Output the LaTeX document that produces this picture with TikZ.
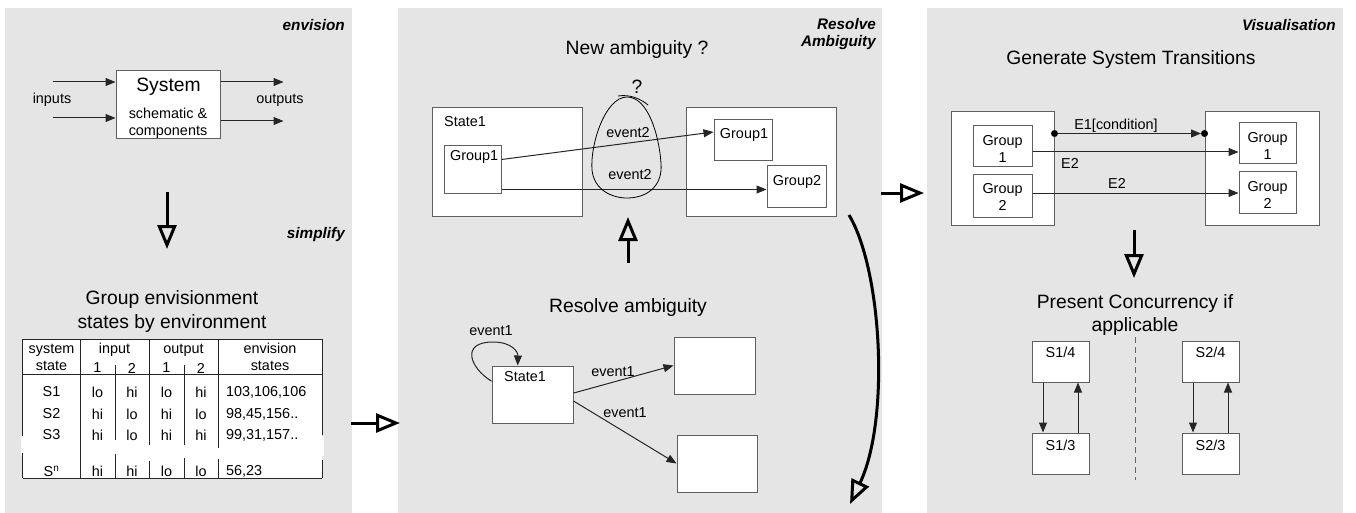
\documentclass[tikz,border=0pt]{standalone}
\usepackage{fontspec}
\setmainfont{Liberation Sans}
\usetikzlibrary{arrows.meta, fit}

\definecolor{panelgray}{RGB}{229,229,229}
\definecolor{edgegray}{RGB}{95,95,95}

\begin{document}
\begin{tikzpicture}[x=1pt, y=-1pt,
    panel/.style={fill=panelgray, draw=none},
    box/.style={draw=edgegray, fill=white, line width=1pt, inner sep=0pt},
    heading/.style={font=\fontsize{19.3}{23.5}\selectfont, align=center, inner sep=0pt},
    txt/.style={font=\fontsize{14.4}{17}\selectfont, align=center, inner sep=0pt},
    stage/.style={font=\fontsize{15.3}{17}\selectfont\bfseries\itshape, align=right, anchor=east, inner sep=0pt},
    conn/.style={draw=black!85, line width=1pt, -{Triangle[length=10pt,width=8pt]}},
    tabline/.style={draw=black!85, line width=1pt},
    flow/.style={line width=3pt, -{Triangle[open,length=24pt,width=19pt]}},
]
    \useasboundingbox (0,0) rectangle (1356,513);

    % Three stages
    \fill[panel] (5,8) rectangle (352,513);
    \fill[panel] (398,8) rectangle (882,513);
    \fill[panel] (927,8) rectangle (1343,513);

    % Envision the system
    \node[stage] (envl) at (345,25) {envision};
    \node[box, fit={(116,71) (220,139)}] (sys) {};
    \node[heading] (systxt) at (168.5,87) {System};
    \node[txt] (schem) at (168,123.5) {schematic \&\\components};
    \draw[conn] ([xshift=-63pt,yshift=23pt]sys.west) -- ([yshift=23pt]sys.west);
    \draw[conn] ([xshift=-63pt,yshift=-13pt]sys.west) -- ([yshift=-13pt]sys.west);
    \draw[conn] ([yshift=23pt]sys.east) -- ([xshift=63pt,yshift=23pt]sys.east);
    \draw[conn] ([yshift=-16pt]sys.east) -- ([xshift=63pt,yshift=-16pt]sys.east);
    \node[txt] (inl) at (52,100) {inputs};
    \node[txt] (outl) at (280,100) {outputs};

    \coordinate (d0) at (167,192);
    \coordinate (d1) at (167,249);
    \draw[flow] (d0) -- (d1);
    \node[stage] (siml) at (345,235) {simplify};

    % Group envisionment table
    \node[heading] (grp) at (172,311.5) {Group envisionment\\states by environment};
    \fill[white] (22.7,339) rectangle (322,478);
    \fill[white] (20.5,436) rectangle (324,456);
    \draw[tabline] (22.7,339) -- (322,339) (22.7,374) -- (322,374) (22.7,478) -- (322,478);
    \draw[tabline] (80,339) -- (80,478);
    \foreach \x/\a/\b/\c/\d in {22.7/339/436/453/478, 115/365/440/454/478, 149/339/445/461/478,
                                184/365/445/458/478, 218/339/448/459/478, 322/339/435/460/478}
        \draw[tabline] (\x,\a) -- (\x,\b) (\x,\c) -- (\x,\d);
    \node[txt] (hsys) at (51.5,357) {system\\state};
    \node[txt] (hin) at (114.5,350) {input};
    \node[txt] (hout) at (183.5,350) {output};
    \node[txt] (henv) at (270,357) {envision\\states};
    \foreach \x/\n [count=\k] in {97.5/1, 132/2, 166.5/1, 201/2}
        \node[txt] (hn\k) at (\x,368) {\n};
    \foreach \y/\s/\a/\b/\c/\d/\e [count=\r] in {392/S1/lo/hi/lo/hi/{103,106,106},
                                                 414/S2/hi/lo/hi/lo/{98,45,156..},
                                                 435/S3/hi/lo/hi/hi/{99,31,157..},
                                                 471/S\textsuperscript{n}/hi/hi/lo/lo/{56,23}} {
        \node[txt] (rs\r) at (51.5,\y) {\s};
        \node[txt] (ra\r) at (97.5,\y) {\a};
        \node[txt] (rb\r) at (132,\y) {\b};
        \node[txt] (rc\r) at (166.5,\y) {\c};
        \node[txt] (rd\r) at (201,\y) {\d};
        \node[txt, anchor=west] (re\r) at (226,\y) {\e};
    }

    \coordinate (p12a) at (351,423);
    \coordinate (p12b) at (400,423);
    \draw[flow] (p12a) -- (p12b);

    % Resolve ambiguity
    \node[stage, anchor=north east] (resl) at (876,18) {Resolve\\Ambiguity};
    \node[heading] (newamb) at (637,50) {New ambiguity ?};
    \node[box, fit={(432,108) (582,216)}] (sa) {};
    \node[txt, anchor=west] (salbl) at (444,122) {State1};
    \node[box, fit={(444,146) (501,193)}] (sag) {};
    \node[txt, anchor=west] (sagl) at (450,157) {Group1};
    \node[box, fit={(686,108) (836,216)}] (sb) {};
    \node[box, fit={(714,120) (772,161)}] (sbg1) {};
    \node[txt] (sbg1l) at (744,135) {Group1};
    \node[box, fit={(767,166) (826,207)}] (sbg2) {};
    \node[txt] (sbg2l) at (797,182) {Group2};
    \draw[conn] ([yshift=-14pt]sag.north east) -- ([yshift=8.5pt]sbg1.west);
    \coordinate (g1b) at ([yshift=4pt]sag.south east);
    \draw[conn] (g1b) -- (g1b -| sbg2.west);
    \draw[line width=0.8pt] (627,97) .. controls (605,97) and (590,145) .. (592,170)
        .. controls (594,190) and (612,198) .. (627,198)
        .. controls (645,198) and (663,188) .. (661,163)
        .. controls (659,135) and (648,97) .. (627,97);
    \draw[line width=0.8pt] (618,96) .. controls (630,94) and (641,99) .. (648,105);
    \node[heading] (qm) at (637,87) {?};
    \node[txt] (ev2a) at (628,133) {event2};
    \node[txt] (ev2b) at (630,175) {event2};

    \coordinate (u0) at (628,263);
    \coordinate (u1) at (628,217);
    \draw[flow] (u0) -- (u1);

    \node[heading] (resamb) at (628,308) {Resolve ambiguity};
    \node[box, fit={(492,366) (573,423)}] (ls) {};
    \node[txt] (lsl) at (525,377) {State1};
    \node[box, fit={(674,337) (755,394)}] (ra) {};
    \node[box, fit={(677,435) (757,492)}] (rb) {};
    \draw[conn] (ls.162) .. controls (470,368) and (460,342) .. (493,342)
        .. controls (512,342) and (518,352) .. (ls.117);
    \node[txt] (ev1s) at (491,331) {event1};
    \draw[conn] (ls.2) -- (ra.west);
    \draw[conn] (ls.-9) -- (rb.west);
    \node[txt] (ev1a) at (613,372) {event1};
    \node[txt] (ev1b) at (625,413) {event1};

    \coordinate (c0) at (849,215);
    \coordinate (c1) at (850,504);
    \draw[flow] (c0) .. controls (882,270) and (890,420) .. (c1);

    \coordinate (p23a) at (881,193);
    \coordinate (p23b) at (924,193);
    \draw[flow] (p23a) -- (p23b);

    % Visualisation
    \node[stage] (visl) at (1336,25) {Visualisation};
    \node[heading] (gen) at (1131,60) {Generate System Transitions};
    \node[box, fit={(951,112) (1054,225)}] (lb) {};
    \node[box, fit={(973,126) (1032,167)}] (lg1) {};
    \node[txt] (lg1l) at (1002.5,148.5) {Group\\1};
    \node[box, fit={(973,175) (1032,217)}] (lg2) {};
    \node[txt] (lg2l) at (1002.5,196.5) {Group\\2};
    \node[box, fit={(1205,112) (1319,225)}] (rbx) {};
    \node[box, fit={(1239,123) (1296,164)}] (rg1) {};
    \node[txt] (rg1l) at (1267.5,146) {Group\\1};
    \node[box, fit={(1239,172) (1296,213)}] (rg2) {};
    \node[txt] (rg2l) at (1267.5,195) {Group\\2};
    \coordinate (e1a) at ([yshift=-22pt]lb.north east);
    \coordinate (e1b) at ([yshift=-22pt]rbx.north west);
    \draw[conn] (e1a) -- ([xshift=-3.5pt]e1b);
    \fill (e1a) circle (3.5pt) (e1b) circle (3.5pt);
    \coordinate (e2a) at ([yshift=-5.5pt]lg1.east);
    \draw[conn] (e2a) -- (e2a -| rg1.west);
    \coordinate (e2b) at ([yshift=3pt]lg2.east);
    \draw[conn] (e2b) -- (e2b -| rg2.west);
    \node[txt] (e1l) at (1116,126) {E1[condition]};
    \node[txt] (e2l) at (1070,163) {E2};
    \node[txt] (e2m) at (1117,183) {E2};

    \coordinate (v0) at (1134,230);
    \coordinate (v1) at (1134,278);
    \draw[flow] (v0) -- (v1);

    \node[heading] (pres) at (1135,315) {Present Concurrency if\\applicable};
    \node[box, fit={(1032,341) (1089,382)}] (s14) {};
    \node[box, fit={(1032,433) (1089,474)}] (s13) {};
    \node[box, fit={(1182,341) (1239,382)}] (s24) {};
    \node[box, fit={(1182,433) (1239,474)}] (s23) {};
    \node[txt] (s14l) at (1060.5,352) {S1/4};
    \node[txt] (s13l) at (1060.5,445) {S1/3};
    \node[txt] (s24l) at (1210.5,352) {S2/4};
    \node[txt] (s23l) at (1210.5,445) {S2/3};
    \draw[conn] ([xshift=-17.5pt]s14.south) -- ([xshift=-17.5pt]s13.north);
    \draw[conn] ([xshift=17.5pt]s13.north) -- ([xshift=17.5pt]s14.south);
    \draw[conn] ([xshift=-17.5pt]s24.south) -- ([xshift=-17.5pt]s23.north);
    \draw[conn] ([xshift=17.5pt]s23.north) -- ([xshift=17.5pt]s24.south);
    \draw[black!60, line width=1pt, dash pattern=on 6pt off 4pt] (1135,337) -- (1135,480);
\end{tikzpicture}
\end{document}
